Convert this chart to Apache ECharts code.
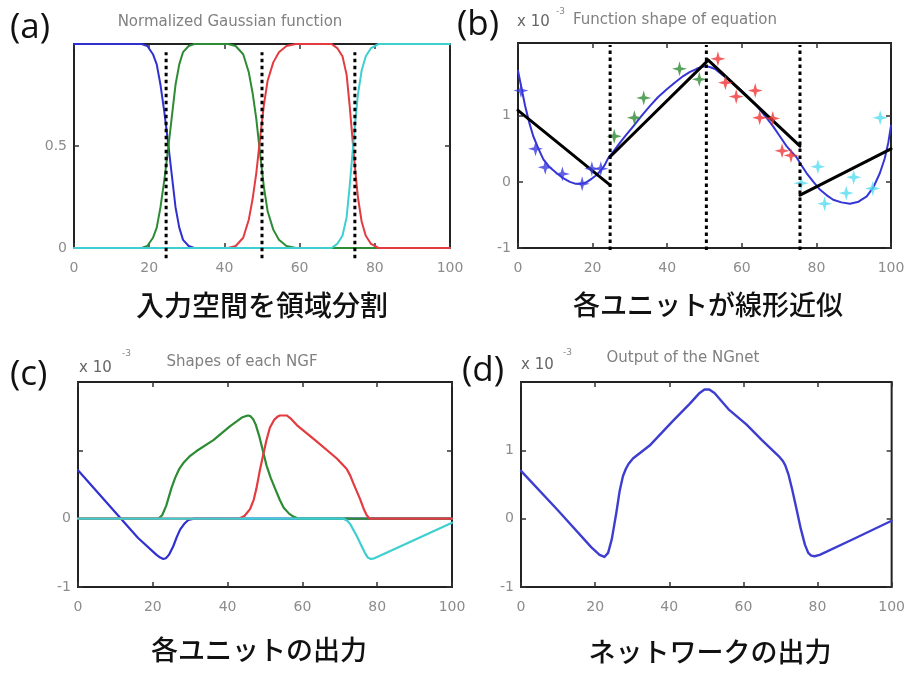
<!DOCTYPE html>
<html><head><meta charset="utf-8">
<script src="https://cdn.jsdelivr.net/npm/echarts@6/dist/echarts.min.js"></script>
<style>html,body{margin:0;padding:0;background:#fff}#c{width:908px;height:673px}</style>
</head><body><div id="c"></div>
<script>
// ---------- data ----------
const xTicks = [0, 20, 40, 60, 80, 100];
// (a) normalized Gaussian functions
const ngfBlue  = [[0,1],[18,1],[19.5,0.99],[21,0.95],[22,0.9],[23,0.8],[24,0.67],[25,0.52],[26,0.36],[27,0.2],[28,0.1],[29,0.04],[30.5,0.01],[32,0],[100,0]];
const ngfGreen = [[0,0],[18,0],[19.5,0.01],[21,0.05],[22,0.1],[23,0.2],[24,0.33],[25,0.48],[26,0.64],[27,0.8],[28,0.9],[29,0.96],[30.5,0.99],[32,1],[41,1],[43,0.99],[45,0.95],[46.5,0.86],[47.5,0.76],[48.5,0.63],[49.5,0.46],[50.5,0.3],[51.5,0.18],[53,0.09],[54.5,0.04],[56.5,0.01],[59,0],[100,0]];
const ngfRed   = [[0,0],[41,0],[43,0.01],[45,0.05],[46.5,0.14],[47.5,0.24],[48.5,0.37],[49.5,0.54],[50.5,0.7],[51.5,0.82],[53,0.91],[54.5,0.96],[56.5,0.99],[59,1],[68.5,1],[70,0.98],[71.4,0.94],[72.5,0.85],[73.3,0.7],[74,0.55],[74.7,0.4],[75.5,0.25],[76.5,0.13],[77.6,0.06],[79,0.02],[81,0],[100,0]];
const ngfCyan  = [[0,0],[68.5,0],[70,0.02],[71.4,0.06],[72.5,0.15],[73.3,0.3],[74,0.45],[74.7,0.6],[75.5,0.75],[76.5,0.87],[77.6,0.94],[79,0.98],[81,1],[100,1]];
const dividersA = [24.5, 50, 74.7];
// (b) function shape of equation
const fitCurve = [[0,1.68],[1,1.4],[1.9,1.15],[3,0.9],[4.1,0.69],[5.5,0.5],[6.8,0.34],[8.5,0.22],[10.4,0.13],[12,0.06],[13.9,0.0],[15.5,-0.03],[17.1,-0.03],[18.5,0.0],[19.8,0.05],[21,0.1],[22,0.16],[23.2,0.25],[24.2,0.36],[25.7,0.47],[27.3,0.59],[29,0.71],[30.9,0.84],[33,0.99],[35.4,1.15],[37.5,1.28],[39.9,1.4],[42,1.5],[44.3,1.6],[46,1.66],[47.9,1.71],[49.2,1.74],[50.5,1.75],[51.8,1.73],[53,1.7],[55,1.61],[57.2,1.51],[59.5,1.4],[61.8,1.28],[64,1.15],[66.2,1.0],[68.4,0.84],[70.2,0.69],[72,0.54],[73.4,0.45],[74.7,0.37],[76,0.25],[77.4,0.13],[79.2,0.0],[81,-0.12],[82.7,-0.2],[84.5,-0.27],[86.7,-0.31],[89,-0.33],[91.3,-0.3],[93.5,-0.22],[95.3,-0.08],[97,0.13],[98.3,0.35],[99.3,0.6],[100,0.85]];
const linSeg1 = [[0,1.08],[24.7,-0.05]];
const linSeg2 = [[24.7,0.38],[51,1.84]];
const linSeg3 = [[51,1.84],[75.6,0.54]];
const linSeg4 = [[75.6,-0.2],[100,0.5]];
const starsBlue  = [[0.8,1.38],[4.7,0.5],[7.3,0.22],[11.9,0.12],[17.2,-0.03],[19.8,0.2],[22.2,0.2]];
const starsGreen = [[25.8,0.69],[31.2,0.97],[33.7,1.27],[43.3,1.71],[48.6,1.55]];
const starsRed   = [[53.6,1.86],[55.6,1.5],[58.5,1.29],[63.6,1.38],[64.8,0.97],[68.3,0.96],[70.8,0.47],[73.2,0.4]];
const starsCyan  = [[75.9,-0.02],[80.4,0.23],[82.2,-0.33],[88,-0.17],[90,0.07],[95.1,-0.1],[97.1,0.97]];
const dividersB = [24.7, 50.5, 75.6];
// (c) shapes of each NGF
const outBlue  = [[0,0.71],[11.5,0],[16,-0.28],[21,-0.53],[22,-0.57],[22.8,-0.59],[23.5,-0.58],[24.3,-0.53],[25.5,-0.4],[26.4,-0.27],[27.3,-0.16],[28.5,-0.07],[29.5,-0.02],[31,0],[100,0]];
const outGreen = [[0,0],[21.5,0],[22.5,0.05],[23.6,0.19],[25,0.45],[26,0.6],[27,0.72],[28.1,0.81],[30,0.92],[31.7,0.99],[36.2,1.15],[40.6,1.35],[43.8,1.48],[44.8,1.5],[45.5,1.51],[46.1,1.5],[46.8,1.46],[47.5,1.38],[48.5,1.2],[49.5,0.98],[50.4,0.78],[51.5,0.6],[52.7,0.44],[54,0.27],[55,0.16],[56.5,0.07],[57.6,0.03],[59,0],[100,0]];
const outRed   = [[0,0],[43,0],[44.5,0.04],[46,0.14],[47,0.28],[47.7,0.44],[48.6,0.7],[49.5,0.93],[50.4,1.15],[51.3,1.33],[52.5,1.45],[53.3,1.49],[54,1.51],[55.8,1.51],[57,1.46],[58.5,1.37],[63.8,1.13],[69.2,0.88],[71.8,0.73],[72.8,0.63],[73.6,0.52],[75.4,0.29],[76.5,0.13],[77.2,0.05],[78,0],[100,0]];
const outCyan  = [[0,0],[71,0],[72,-0.03],[72.8,-0.08],[73.5,-0.15],[74.5,-0.25],[76.7,-0.5],[77.5,-0.57],[78.3,-0.59],[79.2,-0.58],[80,-0.56],[100,-0.06]];
// (d) output of the NGnet
const netOut = [[0,0.7],[10,0.12],[19,-0.42],[21.2,-0.53],[22.5,-0.56],[23.5,-0.5],[24.5,-0.3],[25.7,0.08],[26.6,0.4],[27.5,0.62],[28.3,0.73],[29,0.8],[30.2,0.88],[34.7,1.07],[41,1.43],[45.5,1.68],[48.2,1.84],[49.5,1.89],[50.8,1.89],[52.2,1.84],[56,1.6],[60.8,1.38],[65,1.15],[69.8,0.9],[70.7,0.84],[71.3,0.78],[72.2,0.64],[73.2,0.42],[74.3,0.15],[75.5,-0.15],[76.6,-0.38],[77.5,-0.5],[78.3,-0.54],[79.2,-0.55],[80.6,-0.53],[90,-0.29],[100,-0.03]];

const yLabelsA = [0, 0.5], yTicksA = [0, 0.5, 1];
const yLabelsB = [-1, 0, 1], yLabelsC = [-1, 0], yLabelsD = [-1, 0, 1], yTicksBCD = [-1, 0, 1];

// ---------- style ----------
const BLUE = '#3030d0', GREEN = '#2e8b35', RED = '#e33b40', CYAN = '#3fcfd0';
const TICKC = '#8c8c8c';
const grids = [
  {left: 74, top: 44, width: 376, height: 204},
  {left: 518, top: 43, width: 373, height: 205},
  {left: 78, top: 382, width: 374, height: 205},
  {left: 521, top: 382, width: 371, height: 205}
];
const yRanges = [[0, 1], [-1, 2.1], [-1, 2], [-1, 2]];
const yLabelSets = [yLabelsA, yLabelsB, yLabelsC, yLabelsD];
const yTickSets = [yTicksA, yTicksBCD, yTicksBCD, yTicksBCD];

const tickStyle = {show: true, inside: true, length: 5, lineStyle: {color: '#333', width: 1.5}};
const xAxis = [], yAxis = [];
grids.forEach((g, i) => {
  xAxis.push({type: 'value', gridIndex: i, min: 0, max: 100, interval: 20, position: 'bottom',
    axisLine: {show: false, onZero: false}, splitLine: {show: false}, axisTick: tickStyle,
    axisLabel: {color: TICKC, fontSize: 14, fontFamily: 'DejaVu Sans', margin: 13}});
  xAxis.push({type: 'value', gridIndex: i, min: 0, max: 100, interval: 20, position: 'top',
    axisLine: {show: false, onZero: false}, splitLine: {show: false}, axisLabel: {show: false}, axisTick: tickStyle});
  yAxis.push({type: 'value', gridIndex: i, min: yRanges[i][0], max: yRanges[i][1], position: 'left',
    axisLine: {show: false, onZero: false}, splitLine: {show: false},
    axisTick: Object.assign({customValues: yTickSets[i]}, tickStyle),
    axisLabel: {color: TICKC, fontSize: 14, fontFamily: 'DejaVu Sans', margin: 7, customValues: yLabelSets[i]}});
  yAxis.push({type: 'value', gridIndex: i, min: yRanges[i][0], max: yRanges[i][1], position: 'right',
    axisLine: {show: false, onZero: false}, splitLine: {show: false}, axisLabel: {show: false},
    axisTick: Object.assign({customValues: yTickSets[i]}, tickStyle)});
});

function line(data, gi, color, width, extra) {
  return Object.assign({type: 'line', data: data, xAxisIndex: 2 * gi, yAxisIndex: 2 * gi,
    showSymbol: false, symbol: 'none', smooth: false, animation: false,
    lineStyle: {color: color, width: width, join: 'round', cap: 'round'}}, extra || {});
}
function divider(x, gi, y0, y1) {
  return {type: 'line', data: [[x, y0], [x, y1]], xAxisIndex: 2 * gi, yAxisIndex: 2 * gi,
    symbol: 'none', clip: false, animation: false, z: 5,
    lineStyle: {color: '#000', width: 3, type: [3.5, 3.5]}};
}
const STAR = 'path://M0,-10 L2.2,-2.2 L10,0 L2.2,2.2 L0,10 L-2.2,2.2 L-10,0 L-2.2,-2.2 Z';
function stars(data, color) {
  return {type: 'scatter', data: data, xAxisIndex: 2, yAxisIndex: 2, symbol: STAR, symbolSize: 15,
    animation: false, z: 4, itemStyle: {color: color}};
}

const series = [
  line(ngfBlue, 0, BLUE, 2), line(ngfGreen, 0, GREEN, 2), line(ngfRed, 0, RED, 2), line(ngfCyan, 0, CYAN, 2),
  ...dividersA.map(x => divider(x, 0, -0.05, 0.96)),
  line(fitCurve, 1, '#3535d5', 2),
  line(linSeg1, 1, '#000', 3), line(linSeg2, 1, '#000', 3),
  line(linSeg3, 1, '#000', 3), line(linSeg4, 1, '#000', 3),
  stars(starsBlue, '#3a3ae0'), stars(starsGreen, '#2e8b35'), stars(starsRed, '#f03535'), stars(starsCyan, '#55dcf0'),
  ...dividersB.map(x => divider(x, 1, -1.03, 2.07)),
  line(outBlue, 2, BLUE, 2.2), line(outGreen, 2, GREEN, 2.2), line(outRed, 2, RED, 2.2), line(outCyan, 2, CYAN, 2.2),
  line(netOut, 3, '#3d3dd0', 2.4)
];

function txt(text, x, y, size, color, family, align, extra) {
  return {type: 'text', x: x, y: y, silent: true, z: 10,
    style: Object.assign({text: text, fill: color, fontSize: size, fontFamily: family,
      align: align || 'center', verticalAlign: 'middle'}, extra || {})};
}
const JP = '"Noto Sans CJK JP"';
const capStyle = {fontWeight: 500};
const graphic = [
  txt('(a)', 10, 28, 35, '#111', '"Open Sans"', 'left'),
  txt('(b)', 457, 25, 35, '#111', '"Open Sans"', 'left'),
  txt('(c)', 10, 375, 35, '#111', '"Open Sans"', 'left'),
  txt('(d)', 462, 371, 35, '#111', '"Open Sans"', 'left'),
  txt('Normalized Gaussian function', 230, 22, 15, '#808080', '"DejaVu Sans"'),
  txt('x 10', 517, 22, 15, '#666', '"DejaVu Sans"', 'left'),
  txt('-3', 556, 12, 9, '#888', '"DejaVu Sans"', 'left'),
  txt('Function shape of equation', 675, 20, 15, '#808080', '"DejaVu Sans"'),
  txt('x 10', 79, 368, 15, '#666', '"DejaVu Sans"', 'left'),
  txt('-3', 122, 354, 9, '#888', '"DejaVu Sans"', 'left'),
  txt('Shapes of each NGF', 242, 362, 15, '#808080', '"DejaVu Sans"'),
  txt('x 10', 521, 365, 15, '#666', '"DejaVu Sans"', 'left'),
  txt('-3', 563, 353, 9, '#888', '"DejaVu Sans"', 'left'),
  txt('Output of the NGnet', 683, 358, 15, '#808080', '"DejaVu Sans"'),
  txt('入力空間を領域分割', 262, 305, 28, '#111', JP, 'center', capStyle),
  txt('各ユニットが線形近似', 708, 305, 27, '#111', JP, 'center', capStyle),
  txt('各ユニットの出力', 259, 650, 27, '#111', JP, 'center', capStyle),
  txt('ネットワークの出力', 710, 652, 27, '#111', JP, 'center', capStyle)
];

const chart = echarts.init(document.getElementById('c'), null, {renderer: 'canvas'});
chart.setOption({
  animation: false,
  backgroundColor: '#fff',
  grid: grids.map(g => Object.assign({show: true, borderColor: '#222', borderWidth: 2, backgroundColor: 'transparent'}, g)),
  xAxis: xAxis, yAxis: yAxis, series: series, graphic: graphic
});
</script></body></html>
